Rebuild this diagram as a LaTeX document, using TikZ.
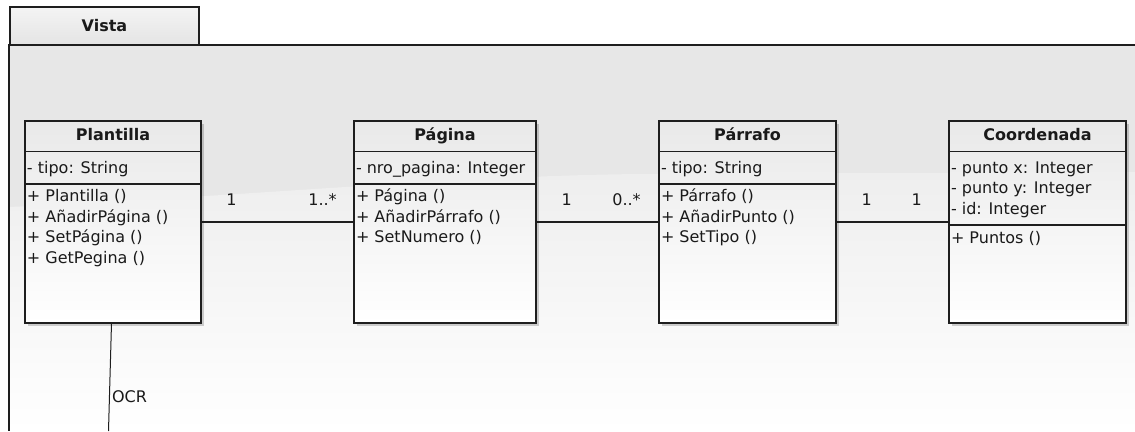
\documentclass[tikz,border=0pt]{standalone}
\usepackage{fontspec}
\setmainfont{DejaVu Sans}
\usetikzlibrary{shadows,calc}
\definecolor{pkgtop}{HTML}{E7E7E7}
\definecolor{gloss}{HTML}{EEEEEE}
\definecolor{boxtop}{HTML}{E9E9E9}
\definecolor{tabtop}{HTML}{F4F4F4}
\definecolor{tabbot}{HTML}{E4E4E4}
\definecolor{linec}{HTML}{1E1E1E}
\definecolor{txt}{HTML}{1A1A1A}
\begin{document}
\begin{tikzpicture}[x=1pt,y=-1pt,
  every node/.style={inner sep=0pt, outer sep=0pt, font=\fontsize{16}{20}\selectfont, text=txt},
  classbox/.style={draw=linec, line width=1.3pt, top color=boxtop, bottom color=white,
    drop shadow={shadow xshift=2.5pt, shadow yshift=-2.5pt, fill=black, opacity=0.18},
    anchor=north west, minimum height=202pt},
  hdr/.style={font=\fontsize{16}{20}\selectfont\bfseries, anchor=base},
  member/.style={anchor=base west},
  mult/.style={anchor=base},
  assoc/.style={draw=linec, line width=1.2pt},
  sepline/.style={draw=linec, line width=1.2pt},
  pkgline/.style={draw=linec, line width=1.4pt}]
\useasboundingbox (0,0) rectangle (1135,431);
\fill[white] (0,0) rectangle (1135,431);
% package body
\fill[pkgtop] (9,45) rectangle (1135,431);
\shade[top color=gloss, bottom color=white] (9,207) .. controls (250,196) and (450,176) .. (640,174) -- (1135,172) -- (1135,431) -- (9,431) -- cycle;
% tab
\shade[top color=tabtop, bottom color=tabbot] (10,7) rectangle (199,45);
\draw[pkgline] (10,45) -- (10,7) -- (199,7) -- (199,45);
\draw[pkgline] (1135,45) -- (9,45) -- (9,431);
\node[hdr] (vista) at (104.5,31) {Vista};

% classes
\node[classbox, minimum width=176pt] (plantilla) at (25,121) {};
\node[classbox, minimum width=182pt] (pagina) at (354,121) {};
\node[classbox, minimum width=177pt] (parrafo) at (659,121) {};
\node[classbox, minimum width=177pt] (coord) at (949,121) {};

% compartments
\foreach \c in {plantilla,pagina,parrafo}{
  \draw[sepline] ([yshift=-30.5pt]\c.north west) -- ([yshift=-30.5pt]\c.north east);
  \draw[sepline] ([yshift=-63pt]\c.north west) -- ([yshift=-63pt]\c.north east);
}
\draw[sepline] ([yshift=-30.5pt]coord.north west) -- ([yshift=-30.5pt]coord.north east);
\draw[sepline] ([yshift=-104pt]coord.north west) -- ([yshift=-104pt]coord.north east);

% Plantilla
\node[hdr] (plantillaH) at (113,140) {Plantilla};
\node[member] (plantillaA1) at (27,173) {- tipo: String};
\node[member] (plantillaM1) at (27,201.5) {+ Plantilla ()};
\node[member] (plantillaM2) at (27,222) {+ AñadirPágina ()};
\node[member] (plantillaM3) at (27,242.5) {+ SetPágina ()};
\node[member] (plantillaM4) at (27,263) {+ GetPegina ()};

% Pagina
\node[hdr] (paginaH) at (445,140) {Página};
\node[member] (paginaA1) at (356,173) {- nro\_pagina: Integer};
\node[member] (paginaM1) at (356,201.5) {+ Página ()};
\node[member] (paginaM2) at (356,222) {+ AñadirPárrafo ()};
\node[member] (paginaM3) at (356,242.5) {+ SetNumero ()};

% Parrafo
\node[hdr] (parrafoH) at (747.5,140) {Párrafo};
\node[member] (parrafoA1) at (661,173) {- tipo: String};
\node[member] (parrafoM1) at (661,201.5) {+ Párrafo ()};
\node[member] (parrafoM2) at (661,222) {+ AñadirPunto ()};
\node[member] (parrafoM3) at (661,242.5) {+ SetTipo ()};

% Coordenada
\node[hdr] (coordH) at (1037.5,140) {Coordenada};
\node[member] (coordA1) at (951,173) {- punto x: Integer};
\node[member] (coordA2) at (951,193.5) {- punto y: Integer};
\node[member] (coordA3) at (951,214) {- id: Integer};
\node[member] (coordM1) at (951,243) {+ Puntos ()};

% associations
\draw[assoc] (plantilla) -- (pagina);
\draw[assoc] (pagina) -- (parrafo);
\draw[assoc] (parrafo) -- (coord);
\node[mult] (m1) at (231.5,205.5) {1};
\node[mult] (m2) at (322.5,205.5) {1..*};
\node[mult] (m3) at (566.7,205.5) {1};
\node[mult] (m4) at (626.5,205.5) {0..*};
\node[mult] (m5) at (866.7,205.5) {1};
\node[mult] (m6) at (916.7,205.5) {1};

% OCR
\coordinate (ocrend) at (108.5,431);
\draw[assoc, line width=1pt] ([xshift=-1.5pt]plantilla.south) -- (ocrend);
\node[member] (ocr) at (112,402) {OCR};
\end{tikzpicture}
\end{document}
